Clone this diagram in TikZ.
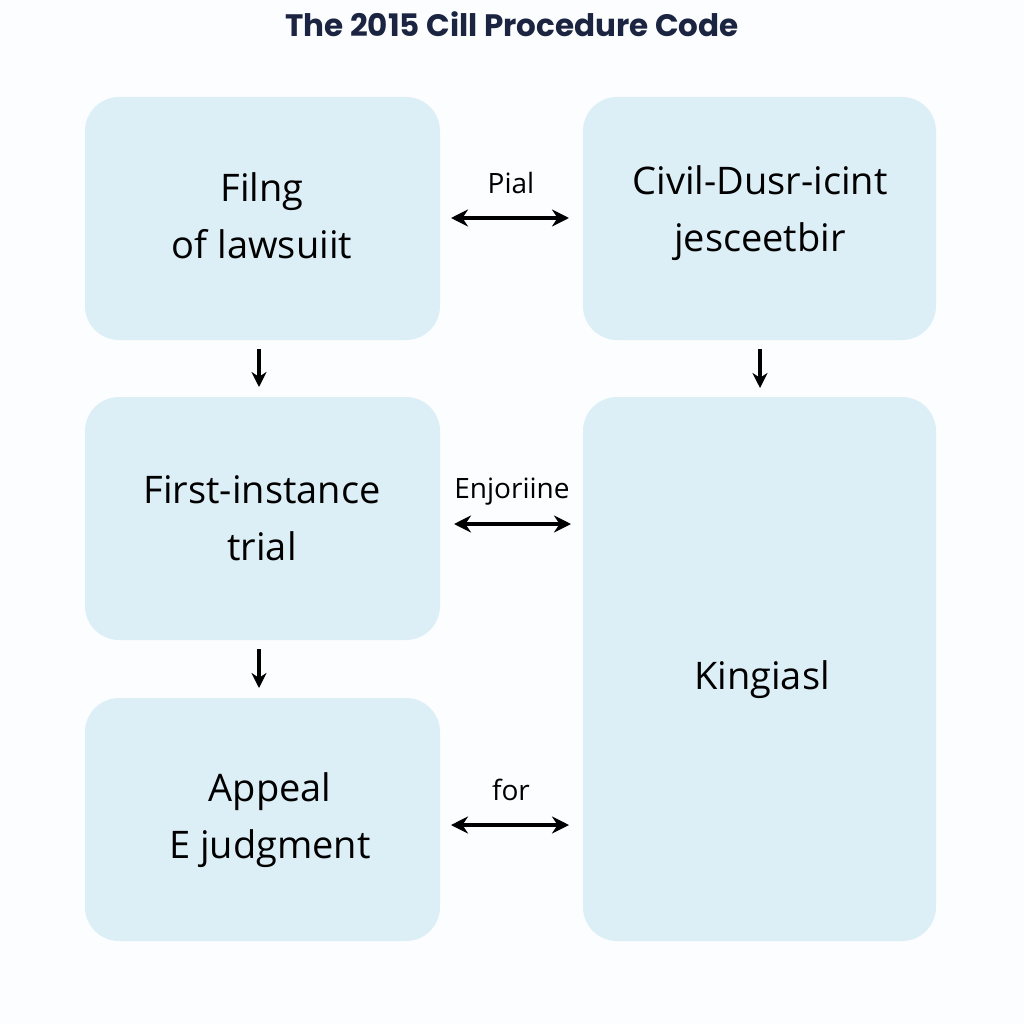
\documentclass[tikz,border=0pt]{standalone}
\usepackage{fontspec}
\setmainfont{Open Sans}
\newfontfamily\titlefont{Poppins}
\usetikzlibrary{arrows.meta}
\definecolor{boxfill}{HTML}{DDEFF6}
\definecolor{bgc}{HTML}{FBFDFE}
\definecolor{navy}{HTML}{1B2440}
\tikzset{
  box/.style={draw=none, fill=boxfill, rounded corners=34pt, inner sep=0pt},
  lbl/.style={font=\fontsize{38}{57}\selectfont, text=black, align=center},
  small/.style={font=\fontsize{28}{34}\selectfont, text=black},
  arr/.style={line width=3.4pt, -{Stealth[length=15pt,width=15pt]}},
  darr/.style={line width=3.4pt, {Stealth[length=17pt,width=17pt]}-{Stealth[length=17pt,width=17pt]}},
}
\begin{document}
\begin{tikzpicture}[x=1pt,y=-1pt]
\fill[bgc] (0,0) rectangle (1024,1024);
\useasboundingbox (0,0) rectangle (1024,1024);
\node[font=\titlefont\bfseries\fontsize{31}{36}\selectfont, text=navy] (title) at (512,24) {The 2015 Cill Procedure Code};
% boxes
\node[box, minimum width=355pt, minimum height=243pt] (b1) at (262.5,218.5) {};
\node[box, minimum width=353pt, minimum height=243pt] (b2) at (759.5,218.5) {};
\node[box, minimum width=355pt, minimum height=243pt] (b3) at (262.5,518.5) {};
\node[box, minimum width=355pt, minimum height=243pt] (b4) at (262.5,819.5) {};
\node[box, minimum width=353pt, minimum height=544pt] (b5) at (759.5,669) {};
% texts
\node[lbl] (t1) at (262,216) {Filng\\of lawsuiit};
\node[lbl] (t2) at (760,213) {Civil-Dusr-icint\\jesceetbir};
\node[lbl] (t3) at (262,518) {First-instance\\trial};
\node[lbl] (t4) at (270,820) {Appeal\\E judgment};
\node[lbl] (t5) at (762,680) {Kingiasl};
% connector labels
\node[small] (l1) at (511,183) {Pial};
\node[small] (l2) at (512,492) {Enjoriine};
\node[small] (l3) at (511,790) {for};
% arrow endpoints
\coordinate (a1s) at (259,349); \coordinate (a1e) at (259,387);
\coordinate (a2s) at (259,649); \coordinate (a2e) at (259,688);
\coordinate (a3s) at (760,349); \coordinate (a3e) at (760,388);
\draw[arr] (a1s) -- (a1e);
\draw[arr] (a2s) -- (a2e);
\draw[arr] (a3s) -- (a3e);
\coordinate (d1s) at (451,218); \coordinate (d1e) at (569,218);
\coordinate (d2s) at (454,524); \coordinate (d2e) at (571,524);
\coordinate (d3s) at (451,825); \coordinate (d3e) at (569,825);
\draw[darr] (d1s) -- (d1e);
\draw[darr] (d2s) -- (d2e);
\draw[darr] (d3s) -- (d3e);
\end{tikzpicture}
\end{document}
